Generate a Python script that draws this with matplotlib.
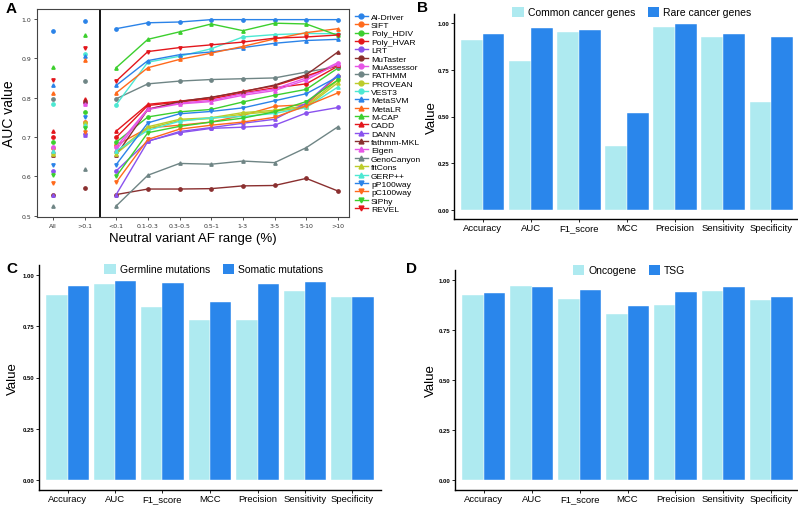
import matplotlib
matplotlib.use("Agg")
import matplotlib.pyplot as plt
from matplotlib.patches import Patch
from matplotlib.lines import Line2D
import numpy as np

plt.rcParams['font.family'] = ['Liberation Sans', 'DejaVu Sans']

# ---- panel A data: AUC per tool, columns follow af_bins ----
af_bins = ['All', '>0.1', '<0.1', '0.1-0.3', '0.3-0.5', '0.5-1', '1-3', '3-5', '5-10', '>10']

ai_driver = [0.969, 0.995, 0.975, 0.990, 0.992, 0.998, 0.998, 0.998, 0.998, 0.998]
sift = [0.672, 0.738, 0.679, 0.723, 0.730, 0.738, 0.755, 0.778, 0.782, 0.855]
poly_hdiv = [0.688, 0.764, 0.687, 0.751, 0.764, 0.770, 0.789, 0.806, 0.821, 0.875]
poly_hvar = [0.700, 0.790, 0.699, 0.780, 0.789, 0.797, 0.812, 0.825, 0.835, 0.880]
lrt = [0.614, 0.708, 0.614, 0.690, 0.711, 0.722, 0.725, 0.730, 0.761, 0.775]
mutaster = [0.554, 0.570, 0.554, 0.568, 0.568, 0.569, 0.576, 0.577, 0.595, 0.563]
muassessor = [0.675, 0.786, 0.675, 0.772, 0.786, 0.793, 0.810, 0.822, 0.850, 0.889]
fathmm = [0.797, 0.841, 0.797, 0.835, 0.842, 0.846, 0.848, 0.850, 0.865, 0.879]
provean = [0.660, 0.736, 0.662, 0.726, 0.745, 0.749, 0.762, 0.768, 0.779, 0.844]
vest3 = [0.784, 0.910, 0.782, 0.890, 0.905, 0.924, 0.954, 0.960, 0.963, 0.962]
metasvm = [0.833, 0.905, 0.831, 0.894, 0.909, 0.916, 0.927, 0.938, 0.945, 0.948]
metalr = [0.813, 0.895, 0.812, 0.876, 0.897, 0.913, 0.930, 0.949, 0.965, 0.975]
m_cap = [0.878, 0.959, 0.876, 0.948, 0.967, 0.987, 0.970, 0.989, 0.987, 0.958]
cadd = [0.716, 0.797, 0.715, 0.783, 0.791, 0.800, 0.816, 0.830, 0.855, 0.882]
dann = [0.554, 0.706, 0.554, 0.689, 0.714, 0.724, 0.735, 0.745, 0.786, 0.858]
fathmm_mkl = [0.654, 0.792, 0.654, 0.770, 0.790, 0.801, 0.815, 0.832, 0.858, 0.916]
eigen = [0.664, 0.784, 0.667, 0.770, 0.784, 0.790, 0.806, 0.818, 0.845, 0.886]
genocanyon = [0.525, 0.618, 0.525, 0.603, 0.633, 0.631, 0.639, 0.635, 0.673, 0.726]
fitcons = [0.658, 0.733, 0.658, 0.722, 0.742, 0.747, 0.758, 0.765, 0.776, 0.838]
gerp = [0.665, 0.730, 0.665, 0.717, 0.740, 0.749, 0.752, 0.760, 0.775, 0.827]
pp100way = [0.630, 0.751, 0.630, 0.736, 0.759, 0.765, 0.774, 0.792, 0.810, 0.853]
pc100way = [0.584, 0.713, 0.585, 0.694, 0.720, 0.730, 0.738, 0.750, 0.779, 0.812]
siphy = [0.603, 0.723, 0.600, 0.711, 0.727, 0.738, 0.748, 0.764, 0.790, 0.845]
revel = [0.846, 0.926, 0.842, 0.917, 0.927, 0.934, 0.941, 0.951, 0.954, 0.959]

tool_names = ['Al-Driver', 'SIFT', 'Poly_HDIV', 'Poly_HVAR', 'LRT', 'MuTaster', 'MuAssessor',
              'FATHMM', 'PROVEAN', 'VEST3', 'MetaSVM', 'MetaLR', 'M-CAP', 'CADD', 'DANN',
              'fathmm-MKL', 'Eigen', 'GenoCanyon', 'fitCons', 'GERP++', 'pP100way',
              'pC100way', 'SiPhy', 'REVEL']
tool_values = [ai_driver, sift, poly_hdiv, poly_hvar, lrt, mutaster, muassessor, fathmm,
               provean, vest3, metasvm, metalr, m_cap, cadd, dann, fathmm_mkl, eigen,
               genocanyon, fitcons, gerp, pp100way, pc100way, siphy, revel]

# ---- bar panels ----
metrics = ['Accuracy', 'AUC', 'F1_score', 'MCC', 'Precision', 'Sensitivity', 'Specificity']
common_genes = [0.912, 0.798, 0.952, 0.343, 0.980, 0.927, 0.577]
rare_genes = [0.941, 0.973, 0.966, 0.520, 0.996, 0.941, 0.927]
germline = [0.903, 0.955, 0.845, 0.782, 0.780, 0.921, 0.893]
somatic = [0.945, 0.974, 0.963, 0.868, 0.958, 0.966, 0.893]
oncogene = [0.924, 0.972, 0.905, 0.830, 0.873, 0.945, 0.902]
tsg = [0.937, 0.965, 0.952, 0.868, 0.939, 0.967, 0.914]

palette = ['#2b83e8', '#ff6a1c', '#3ccf2e', '#e3161c', '#8a52ee', '#8a2f2f',
           '#e655e6', '#6f8585', '#bccc2a', '#4ce8d2']
marks = ['o'] * 10 + ['^'] * 10 + ['v'] * 4
light = '#aeeaf0'
dark = '#2a86eb'

W, H = 798, 506
fig = plt.figure(figsize=(W / 100, H / 100), dpi=100)


def box(l, t, r, b):
    return [l / W, 1 - b / H, (r - l) / W, (b - t) / H]


# ---------- A ----------
ax = fig.add_axes(box(37, 10, 349, 218))
x = np.arange(len(af_bins))
handles = []
for i, (name, vals) in enumerate(zip(tool_names, tool_values)):
    c = palette[i % 10]
    m = marks[i]
    ax.plot(x[:2], vals[:2], linestyle='none', marker=m, color=c, markersize=2.4)
    ax.plot(x[2:], vals[2:], '-', marker=m, color=c, markersize=2.4, linewidth=1.0)
    handles.append(Line2D([], [], color=c, marker=m, markersize=3.5, linewidth=1.0, label=name))
ax.axvline(1.5, color='black', linewidth=1.3)
ax.set_xlim(-0.5, 9.35)
ax.set_ylim(0.497, 1.025)
ax.set_xticks(x)
ax.set_xticklabels(af_bins, fontsize=4.5, family='DejaVu Sans')
ax.set_yticks([0.5, 0.6, 0.7, 0.8, 0.9, 1.0])
ax.set_yticklabels(['0.5', '0.6', '0.7', '0.8', '0.9', '1.0'], fontsize=4.5, family='DejaVu Sans')
ax.tick_params(length=2, width=0.6, pad=2, colors='#333333')
for s in ax.spines.values():
    s.set_color('#444444')
    s.set_linewidth(0.8)
ax.set_xlabel('Neutral variant AF range (%)', fontsize=9.5, labelpad=3)
ax.set_ylabel('AUC value', fontsize=10, labelpad=4)
ax.legend(handles=handles, loc='upper left', bbox_to_anchor=(1.0, 1.01), frameon=False,
          fontsize=6.1, labelspacing=0.05, handlelength=1.5, handletextpad=0.4, borderaxespad=0.3)


# ---------- bar panels ----------
def bars(rect, a, b, names, legend_xy, ylabel_x):
    bx = fig.add_axes(rect)
    pos = np.arange(1, len(metrics) + 1)
    bx.bar(pos - 0.225, a, width=0.45, color=light, edgecolor='white', linewidth=0.3)
    bx.bar(pos + 0.225, b, width=0.45, color=dark, edgecolor='white', linewidth=0.3)
    bx.set_xlim(0.4, 7.6)
    bx.set_ylim(-0.05, 1.05)
    bx.set_xticks(pos)
    bx.set_xticklabels(metrics, fontsize=6.8)
    bx.set_yticks([0, 0.25, 0.5, 0.75, 1.0])
    bx.set_yticklabels(['0.00', '0.25', '0.50', '0.75', '1.00'], fontsize=4.3, fontweight='bold')
    bx.tick_params(length=2, width=0.6, pad=1.5)
    bx.tick_params(axis='x', pad=1)
    bx.spines['top'].set_visible(False)
    bx.spines['right'].set_visible(False)
    bx.spines['left'].set_linewidth(1.0)
    bx.spines['bottom'].set_linewidth(1.0)
    bx.set_ylabel('Value', fontsize=9.5)
    bx.yaxis.set_label_coords(ylabel_x, 0.5)
    leg = [Patch(facecolor=light, label=names[0]), Patch(facecolor=dark, label=names[1])]
    fig.legend(handles=leg, loc='center', bbox_to_anchor=legend_xy, ncol=2, frameon=False,
               fontsize=7.5, handlelength=1.1, handleheight=1.1, handletextpad=0.4,
               columnspacing=1.2, borderaxespad=0)
    return bx


bars(box(454, 15, 800, 220), common_genes, rare_genes,
     ['Common cancer genes', 'Rare cancer genes'], (632 / W, 1 - 13 / H), -0.046)
bars(box(39, 266, 381, 491), germline, somatic,
     ['Germline mutations', 'Somatic mutations'], (214 / W, 1 - 270 / H), -0.058)
bars(box(455, 271, 800, 491), oncogene, tsg,
     ['Oncogene', 'TSG'], (629 / W, 1 - 271 / H), -0.052)

for lab, px, py in [('A', 6, 9), ('B', 417, 8), ('C', 6, 269), ('D', 406, 269)]:
    fig.text(px / W, 1 - py / H, lab, fontsize=11, fontweight='bold', va='center', ha='left')

fig.savefig('out.png', dpi=100)
